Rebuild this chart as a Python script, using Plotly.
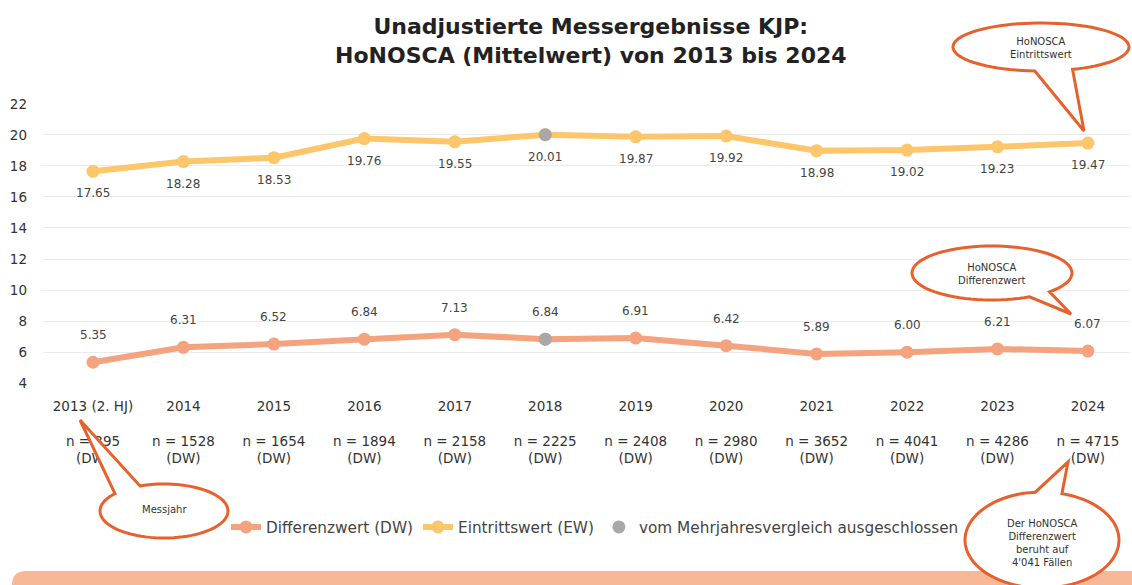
import numpy as np
import plotly.graph_objects as go

# ---------------- data ----------------
years = ["2013 (2. HJ)", "2014", "2015", "2016", "2017", "2018",
         "2019", "2020", "2021", "2022", "2023", "2024"]
n_dw = [395, 1528, 1654, 1894, 2158, 2225, 2408, 2980, 3652, 4041, 4286, 4715]
eintrittswert = [17.65, 18.28, 18.53, 19.76, 19.55, 20.01,
                 19.87, 19.92, 18.98, 19.02, 19.23, 19.47]
differenzwert = [5.35, 6.31, 6.52, 6.84, 7.13, 6.84,
                 6.91, 6.42, 5.89, 6.00, 6.21, 6.07]
excluded_years = ["2018"]
y_ticks = [4, 6, 8, 10, 12, 14, 16, 18, 20, 22]

title_text = "Unadjustierte Messergebnisse KJP:<br>HoNOSCA (Mittelwert) von 2013 bis 2024"

# ---------------- styles ----------------
C_EW = "#FDC66A"
C_DW = "#F5A27F"
C_GREY = "#A8A8A8"
C_CALL = "#E8612C"
C_BAND = "#F8B898"
FONT = "DejaVu Sans"

W, H = 1132, 585
M_L, M_R, M_T, M_B = 43, 2, 103, 201
PW = W - M_L - M_R
PH = H - M_T - M_B


def px(x):
    return (x - M_L) / PW


def py(y):
    return (H - M_B - y) / PH


x_idx = list(range(len(years)))

fig = go.Figure()
fig.add_trace(go.Scatter(
    x=x_idx, y=differenzwert, mode="lines+markers", name="Differenzwert (DW)",
    line=dict(color=C_DW, width=6), marker=dict(color=C_DW, size=13),
    hoverinfo="skip"))
fig.add_trace(go.Scatter(
    x=x_idx, y=eintrittswert, mode="lines+markers", name="Eintrittswert (EW)",
    line=dict(color=C_EW, width=6), marker=dict(color=C_EW, size=13),
    hoverinfo="skip"))
ex_idx = [years.index(y) for y in excluded_years]
fig.add_trace(go.Scatter(
    x=ex_idx + ex_idx,
    y=[eintrittswert[i] for i in ex_idx] + [differenzwert[i] for i in ex_idx],
    mode="markers", name="vom Mehrjahresvergleich ausgeschlossen",
    marker=dict(color=C_GREY, size=13), hoverinfo="skip"))

annotations = []
for i, v in enumerate(eintrittswert):
    annotations.append(dict(x=i, y=v, xref="x", yref="y", text=f"{v:.2f}",
                            showarrow=False, yshift=-22,
                            font=dict(family=FONT, size=12, color="#444")))
for i, v in enumerate(differenzwert):
    annotations.append(dict(x=i, y=v, xref="x", yref="y", text=f"{v:.2f}",
                            showarrow=False, yshift=27,
                            font=dict(family=FONT, size=12, color="#444")))

# title
annotations.append(dict(x=px(591), y=py(40.5), xref="paper", yref="paper",
                        text=title_text, showarrow=False, xanchor="center",
                        yanchor="middle",
                        font=dict(family=FONT, size=22, color="#222", weight="bold")))


# ---------------- callouts ----------------
def callout_path(cx, cy, rx, ry, a_start, a_end, tip, steps=80):
    angs = np.radians(np.linspace(a_end, a_start + 360, steps))
    pts = [(cx + rx * np.cos(a), cy + ry * np.sin(a)) for a in angs]
    pts.append(tip)
    return "M " + " L ".join(f"{px(x):.5f},{py(y):.5f}" for x, y in pts) + " Z"


callouts = [
    (1041, 47, 88, 24, 69, 94, (1084, 131), "HoNOSCA<br>Eintrittswert", 48),
    (992, 273, 80, 27, 44, 62, (1071, 314), "HoNOSCA<br>Differenzwert", 274),
    (164, 511, 64, 27, 220, 248, (80, 420), "Messjahr", 509),
    (1042, 540, 77, 48, 265, 285, (1068, 462),
     "Der HoNOSCA<br>Differenzwert<br>beruht auf<br>4'041 Fällen", 543),
]

shapes = []
r = 14
x0, y0, x1, y1 = 12, 571, 1140, 600
band = (f"M {px(x0):.5f},{py(y1):.5f} L {px(x0):.5f},{py(y0 + r):.5f} "
        f"Q {px(x0):.5f},{py(y0):.5f} {px(x0 + r):.5f},{py(y0):.5f} "
        f"L {px(x1):.5f},{py(y0):.5f} L {px(x1):.5f},{py(y1):.5f} Z")
shapes.append(dict(type="path", path=band, xref="paper", yref="paper",
                   fillcolor=C_BAND, line=dict(width=0), layer="above"))

for cx, cy, rx, ry, a1, a2, tip, txt, ty in callouts:
    shapes.append(dict(type="path", path=callout_path(cx, cy, rx, ry, a1, a2, tip),
                       xref="paper", yref="paper", fillcolor="white",
                       line=dict(color=C_CALL, width=3), layer="above"))
    annotations.append(dict(x=px(cx), y=py(ty), xref="paper", yref="paper",
                            text=txt, showarrow=False, xanchor="center",
                            yanchor="middle",
                            font=dict(family=FONT, size=10, color="#333")))

ticktext = [f"{y}<br> <br>n = {n}<br>(DW)" for y, n in zip(years, n_dw)]

fig.update_layout(
    width=W, height=H,
    margin=dict(l=M_L, r=M_R, t=M_T, b=M_B),
    paper_bgcolor="white", plot_bgcolor="white",
    xaxis=dict(range=[-0.553, 11.465], tickvals=x_idx, ticktext=ticktext,
               showgrid=False, zeroline=False, showline=False, ticks="",
               ticklabelstandoff=12, automargin=False,
               tickfont=dict(family=FONT, size=13.5, color="#333")),
    yaxis=dict(range=[3.95, 22.05], tickvals=y_ticks, showgrid=True,
               gridcolor="#EBEBEB", gridwidth=1, zeroline=False, showline=False,
               ticks="", ticklabelstandoff=15, automargin=False,
               tickfont=dict(family=FONT, size=13.5, color="#333")),
    legend=dict(orientation="h", x=px(595), xanchor="center", y=py(527),
                yanchor="middle",
                font=dict(family=FONT, size=15.3, color="#444"), itemwidth=30,
                bgcolor="rgba(0,0,0,0)"),
    shapes=shapes,
    annotations=annotations,
    showlegend=True,
)

fig.write_html("out.html", post_script="document.body.style.margin='0px';",
               config={"displayModeBar": False})
